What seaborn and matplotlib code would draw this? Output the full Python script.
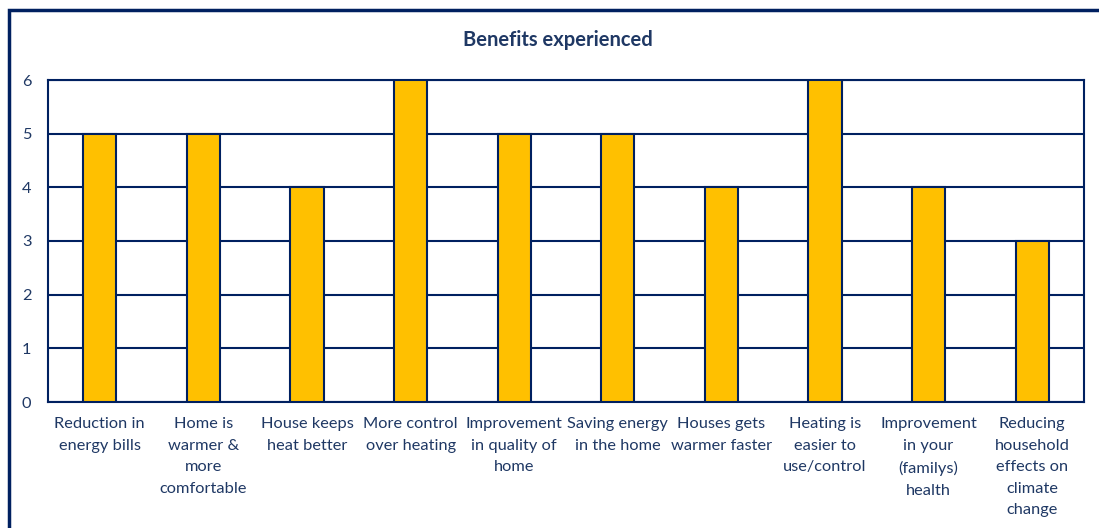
import matplotlib
matplotlib.use("Agg")
import matplotlib.pyplot as plt
import seaborn as sns
import pandas as pd
from matplotlib.patches import Rectangle

categories = [
    "Reduction in\nenergy bills",
    "Home is\nwarmer &\nmore\ncomfortable",
    "House keeps\nheat better",
    "More control\nover heating",
    "Improvement\nin quality of\nhome",
    "Saving energy\nin the home",
    "Houses gets\nwarmer faster",
    "Heating is\neasier to\nuse/control",
    "Improvement\nin your\n(familys)\nhealth",
    "Reducing\nhousehold\neffects on\nclimate\nchange",
]
counts = [5, 5, 4, 6, 5, 5, 4, 6, 4, 3]
y_ticks = [0, 1, 2, 3, 4, 5, 6]
title = "Benefits experienced"

navy = "#002060"
text_col = "#1F3864"
bar_col = "#FFC000"

sns.set_theme(style="white")
plt.rcParams["font.family"] = ["Lato", "DejaVu Sans"]

df = pd.DataFrame({"benefit": categories, "count": counts})

fig = plt.figure(figsize=(10.99, 5.28), dpi=100)
ax = fig.add_axes([48 / 1099, 1 - 402 / 528, (1084 - 48) / 1099, (402 - 80) / 528])

sns.barplot(data=df, x="benefit", y="count", color=bar_col, saturation=1,
            width=0.32, edgecolor=navy, linewidth=1.5, ax=ax, zorder=3)

ax.set_ylim(0, 6)
ax.set_xlim(-0.5, len(categories) - 0.5)
ax.set_yticks(y_ticks)
ax.yaxis.grid(True, color=navy, linewidth=1.5, zorder=0)
ax.set_axisbelow(True)
for s in ax.spines.values():
    s.set_visible(True)
    s.set_color(navy)
    s.set_linewidth(1.5)
ax.set_xlabel("")
ax.set_ylabel("")
ax.tick_params(axis="both", length=0, labelsize=11.8, labelcolor=text_col)
ax.tick_params(axis="y", pad=12)
ax.tick_params(axis="x", pad=11)
for lab in ax.get_xticklabels():
    lab.set_linespacing(1.68)

fig.text(558 / 1099, 1 - 40 / 528, title, ha="center", va="center",
         fontsize=14.5, fontweight="bold", color=text_col)

# outer chart frame
fig.patches.append(Rectangle((9 / 1099, -0.1), 1.2, 1 - 10 / 528 + 0.1,
                             transform=fig.transFigure, fill=False,
                             edgecolor=navy, linewidth=2.5, zorder=10))

fig.savefig("out.png", dpi=100, facecolor="white")
